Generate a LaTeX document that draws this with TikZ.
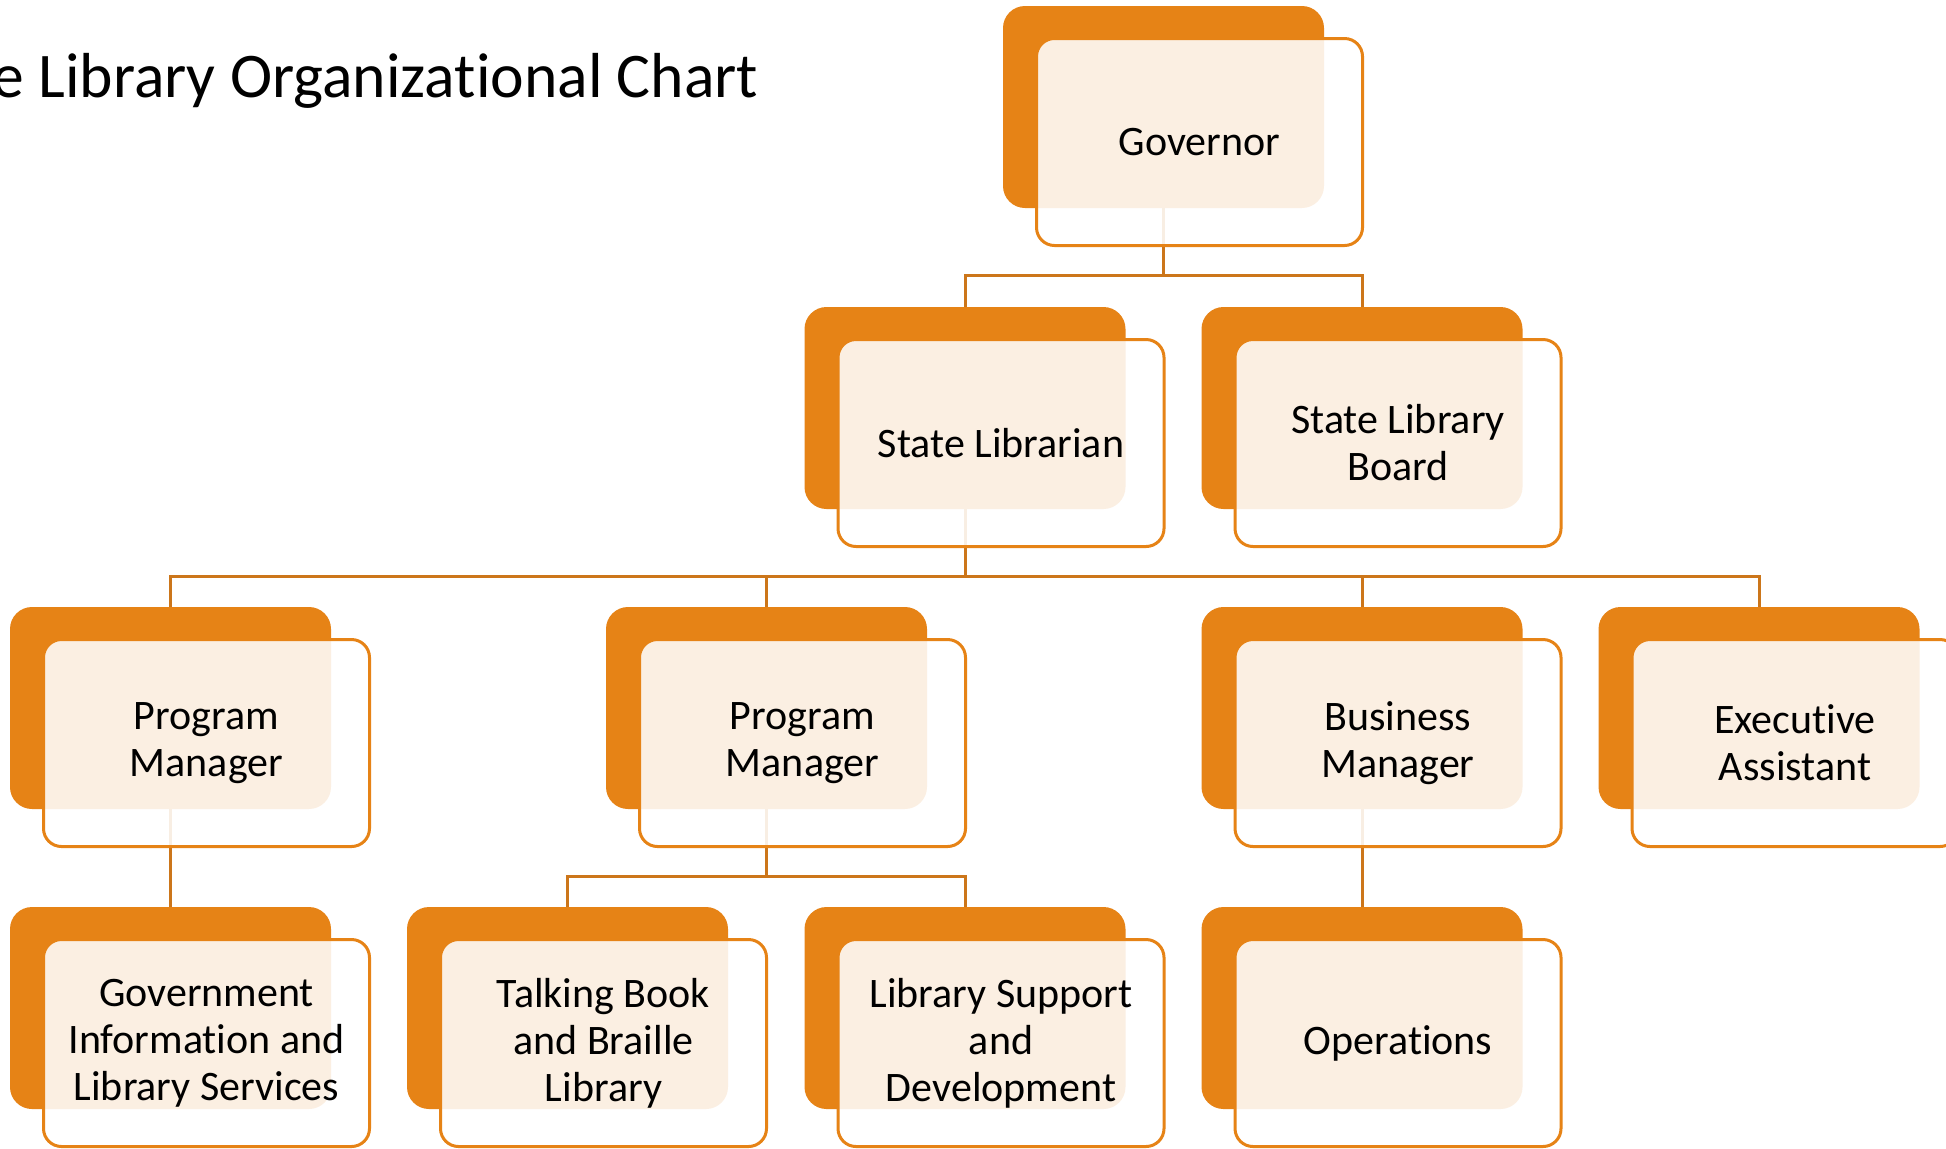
\documentclass[tikz,border=0pt]{standalone}
\usepackage{fontspec}
\setmainfont{Carlito}[Ligatures={NoCommon,NoRequired,NoContextual}]

\definecolor{chartorange}{RGB}{230,131,22}
\definecolor{chartline}{RGB}{204,118,26}

\tikzset{
  backbox/.style={fill=chartorange, rounded corners=11pt, minimum width=160.5pt, minimum height=101pt, inner sep=0pt},
  frontbox/.style={draw=chartorange, line width=1.5pt, fill=white, fill opacity=0.88, text opacity=1, rounded corners=9pt,
    minimum width=163pt, minimum height=103.5pt, inner sep=0pt, align=center, font=\fontsize{21}{23.5}\selectfont},
  link/.style={draw=chartline, line width=1.5pt},
}

\begin{document}
\begin{tikzpicture}[x=0.5pt,y=0.5pt,yscale=-1,xscale=1]
\useasboundingbox (0,0) rectangle (1946,1148);

% Title
\node[anchor=base west, inner sep=0pt, font=\fontsize{31.8}{38}\selectfont] (title) at (-8,97) {e Library Organizational Chart};

%Shape: back boxes
\node[backbox] (gov) at (1163.5,107) {};
\node[backbox] (lib) at (965,408) {};
\node[backbox] (board) at (1362,408) {};
\node[backbox] (pma) at (170.5,708) {};
\node[backbox] (pmb) at (766.5,708) {};
\node[backbox] (bus) at (1362,708) {};
\node[backbox] (exa) at (1759,708) {};
\node[backbox] (gil) at (170.5,1008) {};
\node[backbox] (tbl) at (567.5,1008) {};
\node[backbox] (lsd) at (965,1008) {};
\node[backbox] (ops) at (1362,1008) {};

%Straight Lines: connectors
\foreach \c in {lib,board} \draw[link] (gov.south) -- ++(0,67) -| (\c.north);
\foreach \c in {pma,pmb,bus,exa} \draw[link] (lib.south) -- ++(0,67) -| (\c.north);
\draw[link] (pma.south) -- (gil.north);
\foreach \c in {tbl,lsd} \draw[link] (pmb.south) -- ++(0,67) -| (\c.north);
\draw[link] (bus.south) -- (ops.north);

% Text Node: front boxes
\node[frontbox] (gov-t) at ([shift={(36,35)}]gov.center) {Governor};
\node[frontbox] (lib-t) at ([shift={(36,35)}]lib.center) {State Librarian};
\node[frontbox] (board-t) at ([shift={(36,35)}]board.center) {State Library\\Board};
\node[frontbox] (pma-t) at ([shift={(36,35)}]pma.center) {Program\\Manager};
\node[frontbox] (pmb-t) at ([shift={(36,35)}]pmb.center) {Program\\Manager};
\node[frontbox] (bus-t) at ([shift={(36,35)}]bus.center) {Business\\Manager};
\node[frontbox] (exa-t) at ([shift={(36,35)}]exa.center) {Executive\\Assistant};
\node[frontbox] (gil-t) at ([shift={(36,35)}]gil.center) {Government\\Information and\\Library Services};
\node[frontbox] (tbl-t) at ([shift={(36,35)}]tbl.center) {Talking Book\\and Braille\\Library};
\node[frontbox] (lsd-t) at ([shift={(36,35)}]lsd.center) {Library Support\\and\\Development};
\node[frontbox] (ops-t) at ([shift={(36,35)}]ops.center) {Operations};
\end{tikzpicture}
\end{document}
